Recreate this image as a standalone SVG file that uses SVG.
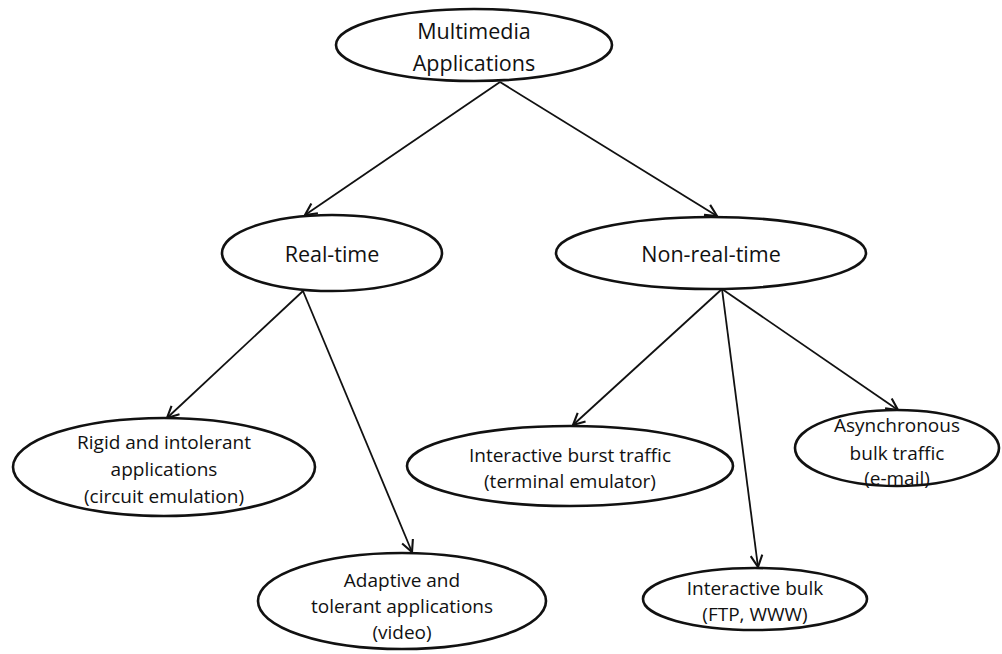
<svg xmlns="http://www.w3.org/2000/svg" width="1002" height="654" viewBox="0 0 1002 654">
<style>
.n{fill:#fff;stroke:#111;stroke-width:2.6}
.t{font-family:"Open Sans","Liberation Sans",sans-serif;font-weight:500;fill:#111;text-anchor:middle;dominant-baseline:central}
.big{font-size:21.5px}
.sm{font-size:19px}
.c{fill:none;stroke:#111;stroke-width:1.8}
</style>
<defs>
<marker id="a" markerUnits="userSpaceOnUse" viewBox="0 0 12 12" refX="11" refY="6" markerWidth="14" markerHeight="14" orient="auto">
<path d="M1,1 L11,6 L1,11" fill="none" stroke="#111" stroke-width="1.8"/>
</marker>
</defs>
<rect width="1002" height="654" fill="#fff"/>
<g id="connectors">
<line class="c" x1="500" y1="82" x2="305" y2="215" marker-end="url(#a)"/>
<line class="c" x1="500" y1="82" x2="717" y2="216" marker-end="url(#a)"/>
<line class="c" x1="303" y1="291" x2="167" y2="418" marker-end="url(#a)"/>
<line class="c" x1="303" y1="291" x2="412" y2="552" marker-end="url(#a)"/>
<line class="c" x1="722" y1="289" x2="573" y2="425" marker-end="url(#a)"/>
<line class="c" x1="722" y1="289" x2="758" y2="567" marker-end="url(#a)"/>
<line class="c" x1="722" y1="289" x2="898" y2="410" marker-end="url(#a)"/>
</g>
<g id="multimedia">
<ellipse class="n" cx="474" cy="45" rx="138" ry="36"/>
<text class="t big" x="474" y="30">Multimedia</text>
<text class="t big" x="474" y="62">Applications</text>
</g>
<g id="realtime">
<ellipse class="n" cx="332" cy="253" rx="110" ry="38"/>
<text class="t big" x="332" y="253">Real-time</text>
</g>
<g id="nonrealtime">
<ellipse class="n" cx="711" cy="253" rx="155" ry="36"/>
<text class="t big" x="711" y="253">Non-real-time</text>
</g>
<g id="rigid">
<ellipse class="n" cx="164" cy="467" rx="151" ry="49"/>
<text class="t sm" x="164" y="442">Rigid and intolerant</text>
<text class="t sm" x="164" y="469">applications</text>
<text class="t sm" x="164" y="496">(circuit emulation)</text>
</g>
<g id="adaptive">
<ellipse class="n" cx="402" cy="601" rx="144" ry="48"/>
<text class="t sm" x="402" y="580">Adaptive and</text>
<text class="t sm" x="402" y="606">tolerant applications</text>
<text class="t sm" x="402" y="632">(video)</text>
</g>
<g id="burst">
<ellipse class="n" cx="570" cy="466" rx="163" ry="40"/>
<text class="t sm" x="570" y="455">Interactive burst traffic</text>
<text class="t sm" x="570" y="481">(terminal emulator)</text>
</g>
<g id="async">
<ellipse class="n" cx="897" cy="448" rx="102" ry="38"/>
<text class="t sm" x="897" y="425">Asynchronous</text>
<text class="t sm" x="897" y="453">bulk traffic</text>
<text class="t sm" x="897" y="478">(e-mail)</text>
</g>
<g id="bulk">
<ellipse class="n" cx="755" cy="599" rx="112" ry="31"/>
<text class="t sm" x="755" y="588">Interactive bulk</text>
<text class="t sm" x="755" y="614">(FTP, WWW)</text>
</g>
</svg>
